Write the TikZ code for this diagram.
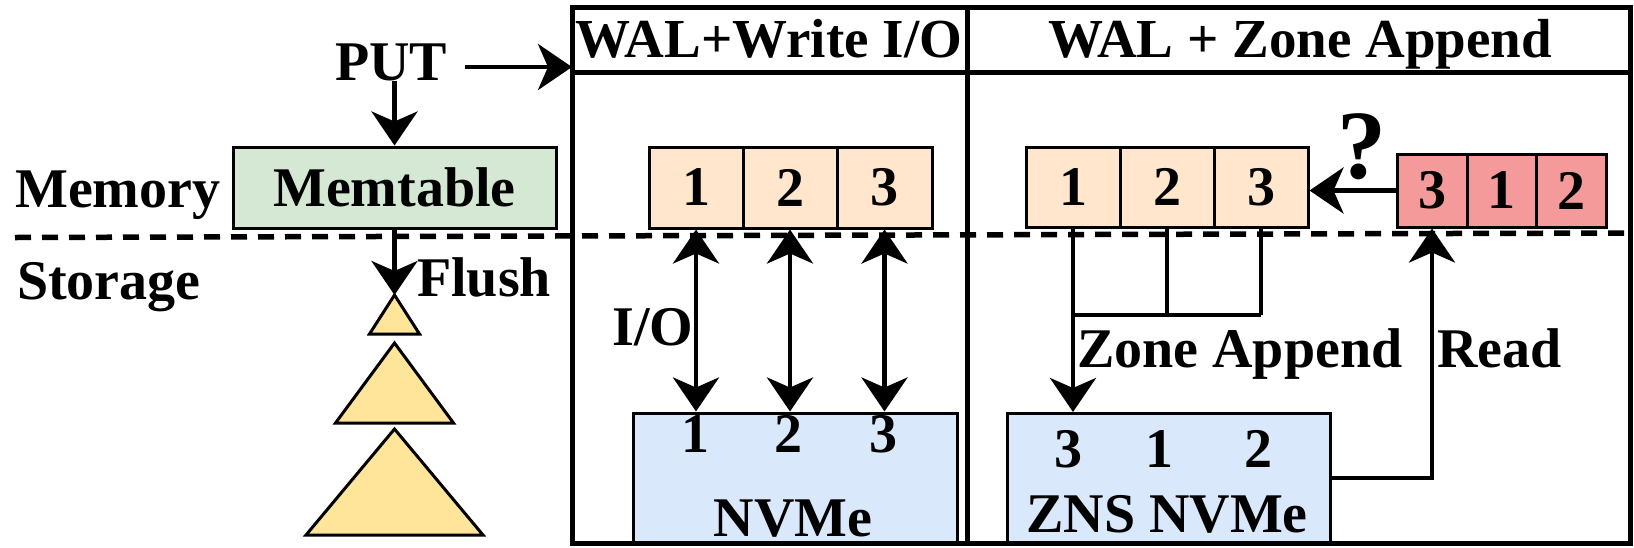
\documentclass[tikz,border=0pt]{standalone}
\usepackage{fontspec}
\setmainfont{Liberation Serif}
\usetikzlibrary{arrows.meta,calc}
\definecolor{memgreen}{HTML}{D5E8D4}
\definecolor{peach}{HTML}{FFE6CC}
\definecolor{nvblue}{HTML}{DAE8FC}
\definecolor{redcell}{HTML}{F59A9A}
\definecolor{triy}{HTML}{FFE599}
\begin{document}
\begin{tikzpicture}[x=1pt,y=-1pt,
  font=\fontsize{56}{60}\selectfont\bfseries,
  lbl/.style={inner sep=0pt, anchor=base},
  hdr/.style={lbl, font=\fontsize{55}{60}\selectfont\bfseries},
  box/.style={draw, line width=3pt, inner sep=0pt},
  cellL/.style={box, fill=peach, minimum width=94pt, minimum height=81pt},
  cellR/.style={box, fill=peach, minimum width=94pt, minimum height=80pt},
  cellQ/.style={box, fill=redcell, minimum height=73pt},
  dev/.style={box, fill=nvblue, minimum height=129pt},
  tip/.tip={Stealth[length=34pt,width=46pt,inset=10pt]},
  arr/.style={line width=4.5pt, -tip},
  darr/.style={line width=4.5pt, tip-tip},
  conn/.style={line width=4.5pt},
  frm/.style={line width=5pt},
  tri/.style={draw, line width=3pt, fill=triy, line join=miter}
]
\useasboundingbox (0,0) rectangle (1634,547);

% dashed memory/storage boundary
\draw[line width=5.5pt, dash pattern=on 16pt off 11pt] (15,237.5) -- (1630,233);

% frame
\draw[frm] (572,7) rectangle (1630,543);
\draw[frm] (572,72) -- (1630,72);
\draw[frm] (967,7) -- (967,543);

% headers
\node[hdr] (hdrL) at (769,57) {WAL+Write I/O};
\node[hdr] (hdrR) at (1300,57) {WAL + Zone Append};

% left side
\node[lbl] (put) at (391,80) {PUT};
\node[box, fill=memgreen, minimum width=323pt, minimum height=81pt] (mem) at (394.5,187.5) {Memtable};
\node[lbl, anchor=base west] (memory) at (15,207) {Memory};
\node[lbl, anchor=base west] (storage) at (17,299) {Storage};
\node[lbl, anchor=base west] (flush) at (417,296) {Flush};

\coordinate (putout) at (465,67);
\coordinate (fin) at (572,67);
\draw[arr] (mem.north |- put.south) -- (mem.north);
\draw[arr] (putout) -- (fin);

\coordinate (t1) at (394.5,295);
\draw[tri] (t1) -- (419.5,334) -- (369.5,334) -- cycle;
\draw[tri] (394.5,343) -- (453.5,423) -- (335.5,423) -- cycle;
\draw[tri] (394.5,429) -- (483,535) -- (306,535) -- cycle;
\draw[arr] (mem.south) -- (t1);

% WAL + Write I/O panel
\node[cellL] (l1) at (696,187.5) {1};
\node[cellL] (l2) at (790,187.5) {2};
\node[cellL, minimum width=95pt] (l3) at (884.5,187.5) {3};
\node[dev, minimum width=324pt] (nv) at (795,477.5) {};
\node[lbl] (n1) at (695,452) {1};
\node[lbl] (n2) at (788,452) {2};
\node[lbl] (n3) at (883,452) {3};
\node[lbl] (nvtxt) at (793,536) {NVMe};
\node[lbl] (io) at (653,345) {I/O};
\draw[darr] (l1.south) -- (l1.south |- nv.north);
\draw[darr] (l2.south) -- (l2.south |- nv.north);
\draw[darr] (l3.south) -- (l3.south |- nv.north);

% WAL + Zone Append panel
\node[cellR] (r1) at (1073,187) {1};
\node[cellR] (r2) at (1167,187) {2};
\node[cellR] (r3) at (1261,187) {3};
\node[cellQ, minimum width=70pt] (q1) at (1432,190.5) {3};
\node[cellQ, minimum width=69pt] (q2) at (1501.5,190.5) {1};
\node[cellQ, minimum width=70pt] (q3) at (1571,190.5) {2};
\node[lbl, font=\fontsize{98}{100}\selectfont\bfseries] (qm) at (1362,178) {?};
\draw[arr] (q1.west) -- (q1.west -| r3.east);

\node[dev, minimum width=323pt] (zns) at (1168.5,478) {};
\node[lbl] (z1) at (1068,467) {3};
\node[lbl] (z2) at (1159,467) {1};
\node[lbl] (z3) at (1258,467) {2};
\node[lbl] (znstxt) at (1167,532) {ZNS NVMe};

\coordinate (zy) at (0,315);
\draw[conn] (r2.south) -- (r2.south |- zy);
\draw[conn] (r3.south) -- (r3.south |- zy);
\draw[conn] (r1.south |- zy) -- (r3.south |- zy);
\draw[arr] (r1.south) -- (r1.south |- zns.north);
\node[lbl, anchor=base west] (zatxt) at (1077,367) {Zone Append};

\draw[arr] (zns.east) -| (q1.south);
\node[lbl, anchor=base west] (readtxt) at (1437,367) {Read};
\end{tikzpicture}
\end{document}
